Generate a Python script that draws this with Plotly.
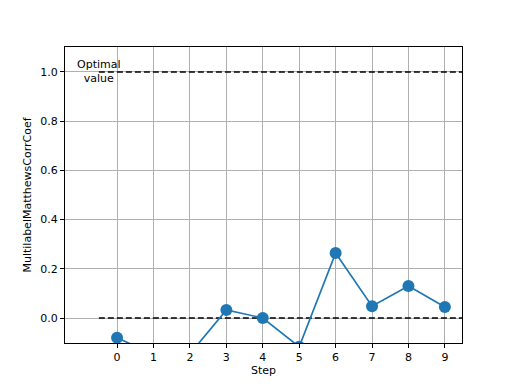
import plotly.graph_objects as go

steps = [0, 1, 2, 3, 4, 5, 6, 7, 8, 9]
values = [-0.08, -0.149, -0.146, 0.033, 0.0, -0.117, 0.264, 0.048, 0.130, 0.045]
optimal_value = 1.0
baseline_value = 0.0
x_ticks = [0, 1, 2, 3, 4, 5, 6, 7, 8, 9]
y_ticks = [0.0, 0.2, 0.4, 0.6, 0.8, 1.0]
ref_x = [-0.5, 9.5]

fig = go.Figure()
fig.add_trace(go.Scatter(x=ref_x, y=[optimal_value]*2, mode="lines",
                         line=dict(color="black", width=1.7, dash="6px,3px"), hoverinfo="skip"))
fig.add_trace(go.Scatter(x=ref_x, y=[baseline_value]*2, mode="lines",
                         line=dict(color="black", width=1.7, dash="6px,3px"), hoverinfo="skip"))
fig.add_trace(go.Scatter(x=steps, y=values, mode="lines+markers",
                         line=dict(color="#1f77b4", width=1.7),
                         marker=dict(color="#1f77b4", size=12)))

fig.add_annotation(x=-0.5, y=optimal_value, xref="x", yref="y", text="Optimal<br>value",
                   showarrow=False, align="center", font=dict(size=11, color="black"))

axis_common = dict(showline=True, linecolor="black", linewidth=1, mirror=True,
                   ticks="outside", ticklen=4, tickcolor="black",
                   showgrid=True, gridcolor="#b0b0b0", gridwidth=1, zeroline=False,
                   tickfont=dict(size=11, color="black"))

fig.update_layout(
    width=512, height=384,
    margin=dict(l=57, r=58, t=39, b=49),
    paper_bgcolor="white", plot_bgcolor="white",
    showlegend=False,
    font=dict(family="DejaVu Sans", size=11, color="black"),
    xaxis=dict(range=[-1.43, 9.47], tickvals=x_ticks,
               title=dict(text="Step", font=dict(size=11), standoff=0), **axis_common),
    yaxis=dict(range=[-0.1016, 1.1016], tickvals=y_ticks, tickformat=".1f",
               title=dict(text="MultilabelMatthewsCorrCoef", font=dict(size=11), standoff=6), **axis_common),
)

fig.write_html("out.html")
